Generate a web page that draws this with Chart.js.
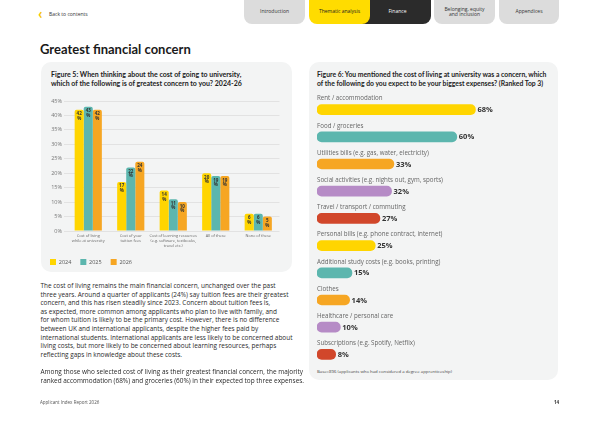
<!DOCTYPE html>
<html>
<head>
<meta charset="utf-8">
<script src="https://cdn.jsdelivr.net/npm/chart.js@4.4.1/dist/chart.umd.min.js"></script>
<style>
  body { margin: 0; width: 600px; height: 424px; background: #fff; position: relative; overflow: hidden; font-family: "Open Sans", sans-serif; color: #2a2a2a; }
  .abs { position: absolute; white-space: nowrap; }
  .tab { position: absolute; top: 0; height: 24px; background: #dcdcdc; border-radius: 0 0 8px 8px; font: 5px "Open Sans"; color: #333; display: flex; align-items: center; justify-content: center; text-align: center; line-height: 5.5px; }
  .card { position: absolute; background: #f3f4f4; border-radius: 10px; }
  .figtitle { font: bold 7px Lato; color: #222; line-height: 9px; }
  .body { font: 6.45px "Open Sans"; line-height: 8.6px; color: #2a2a2a; }
  canvas { position: absolute; }
</style>
</head>
<body>
<div class="abs" style="left:38px;top:3px;font:bold 16px Lato;color:#f5c400;">&lsaquo;</div>
<div class="abs" style="left:49px;top:11px;font:5px 'Open Sans';color:#333;">Back to contents</div>

<div class="tab" style="left:244px;width:61px;">Introduction</div>
<div class="tab" style="left:350px;width:81px;background:#2b2b2b;color:#fff;padding-left:14px;box-sizing:border-box;">Finance</div>
<div class="tab" style="left:309px;width:61px;background:#ffdc00;color:#222;">Thematic analysis</div>
<div class="tab" style="left:434px;width:61px;">Belonging, equity<br>and inclusion</div>
<div class="tab" style="left:499px;width:60px;">Appendices</div>

<div class="abs" style="left:40px;top:41px;font:bold 13px Lato;color:#1a1a1a;">Greatest financial concern</div>

<div class="card" style="left:41px;top:62px;width:251px;height:210px;"></div>
<div class="card" style="left:309px;top:62px;width:249px;height:318px;"></div>

<div class="abs figtitle" style="left:51px;top:70px;">Figure 5: When thinking about the cost of going to university,<br>which of the following is of greatest concern to you? 2024-26</div>
<div class="abs figtitle" style="left:317px;top:70px;font-size:6.8px;">Figure 6: You mentioned the cost of living at university was a concern, which<br>of the following do you expect to be your biggest expenses? (Ranked Top 3)</div>

<canvas id="fig5" width="251" height="180" style="left:41px;top:95px;"></canvas>
<canvas id="fig6" width="249" height="280" style="left:309px;top:88px;"></canvas>

<div class="abs" style="left:317px;top:368px;font:4.3px 'Open Sans';color:#444;">Base=896 (applicants who had considered a degree apprenticeship)</div>

<div class="abs body" style="left:40.5px;top:282px;">The cost of living remains the main financial concern, unchanged over the past<br>three years. Around a quarter of applicants (24%) say tuition fees are their greatest<br>concern, and this has risen steadily since 2023. Concern about tuition fees is,<br>as expected, more common among applicants who plan to live with family, and<br>for whom tuition is likely to be the primary cost. However, there is no difference<br>between UK and international applicants, despite the higher fees paid by<br>international students. International applicants are less likely to be concerned about<br>living costs, but more likely to be concerned about learning resources, perhaps<br>reflecting gaps in knowledge about these costs.</div>
<div class="abs body" style="left:40.5px;top:368px;">Among those who selected cost of living as their greatest financial concern, the majority<br>ranked accommodation (68%) and groceries (60%) in their expected top three expenses.</div>

<div class="abs" style="left:40px;top:399px;font:4.5px 'Open Sans';color:#555;">Applicant Index Report 2026</div>
<div class="abs" style="left:554px;top:399px;font:bold 4.5px 'Open Sans';color:#333;">14</div>

<script>
// Figure 5 data
const concernLabels = [
  ['Cost of living', 'while at university'],
  ['Cost of your', 'tuition fees'],
  ['Cost of learning resources', '(e.g. software, textbooks,', 'travel etc.)'],
  'All of these',
  'None of these'
];
const years = ['2024', '2025', '2026'];
const concern2024 = [42, 17, 14, 20, 6];
const concern2025 = [43, 22, 11, 19, 6];
const concern2026 = [42, 24, 10, 19, 5];
const yTicks = [0, 5, 10, 15, 20, 25, 30, 35, 40, 45];

// Figure 6 data
const expenseLabels = [
  'Rent / accommodation',
  'Food / groceries',
  'Utilities bills (e.g. gas, water, electricity)',
  'Social activities (e.g. nights out, gym, sports)',
  'Travel / transport / commuting',
  'Personal bills (e.g. phone contract, internet)',
  'Additional study costs (e.g. books, printing)',
  'Clothes',
  'Healthcare / personal care',
  'Subscriptions (e.g. Spotify, Netflix)'
];
const expenseValues = [68, 60, 33, 32, 27, 25, 15, 14, 10, 8];

const yellow = '#ffd500', teal = '#5cb6ae', orange = '#f6a623', purple = '#b68bc6', red = '#d1472b';
const expenseColors = [yellow, teal, orange, purple, red, yellow, teal, orange, purple, red];

Chart.defaults.font.family = 'Open Sans';
Chart.defaults.animation = false;

// value labels inside the top of each column
const columnLabels = {
  id: 'columnLabels',
  afterDatasetsDraw(chart) {
    const ctx = chart.ctx;
    ctx.save();
    ctx.font = 'bold 4.5px "Open Sans"';
    ctx.fillStyle = '#333';
    ctx.textAlign = 'center';
    ctx.textBaseline = 'top';
    chart.data.datasets.forEach((ds, i) => {
      chart.getDatasetMeta(i).data.forEach((bar, j) => {
        ctx.fillText(ds.data[j], bar.x, bar.y + 2);
        ctx.fillText('%', bar.x, bar.y + 6.5);
      });
    });
    ctx.restore();
  }
};

new Chart(document.getElementById('fig5'), {
  type: 'bar',
  data: {
    labels: concernLabels,
    datasets: [
      { label: years[0], data: concern2024, backgroundColor: yellow },
      { label: years[1], data: concern2025, backgroundColor: teal },
      { label: years[2], data: concern2026, backgroundColor: orange }
    ]
  },
  options: {
    responsive: false,
    layout: { padding: { top: 6, left: 0, right: 12.5, bottom: 0 } },
    datasets: { bar: { categoryPercentage: 0.64, barPercentage: 1, borderRadius: 2 } },
    plugins: {
      legend: {
        position: 'bottom',
        align: 'start',
        labels: { boxWidth: 6, boxHeight: 6, padding: 9, color: '#555', font: { size: 5.5 } }
      },
      tooltip: { enabled: false }
    },
    scales: {
      x: {
        grid: { display: false, drawTicks: false },
        border: { display: false },
        ticks: { color: '#666', font: { size: 3.9, lineHeight: 1.2 }, maxRotation: 0, autoSkip: false, padding: 3 },
        afterFit: s => { s.height = 19; }
      },
      y: {
        min: 0,
        max: 45,
        afterBuildTicks: s => { s.ticks = yTicks.map(v => ({ value: v })); },
        grid: { color: '#e2e2e2', tickLength: 3 },
        border: { display: false },
        ticks: { color: '#777', font: { size: 5.5 }, padding: 2, callback: v => v + '%' },
        afterFit: s => { s.width = 26; }
      }
    }
  },
  plugins: [columnLabels]
});

// category names above bars and values after them
const barLabels = {
  id: 'barLabels',
  afterDatasetsDraw(chart) {
    const ctx = chart.ctx;
    const left = chart.chartArea.left;
    ctx.save();
    ctx.textBaseline = 'middle';
    ctx.textAlign = 'left';
    chart.getDatasetMeta(0).data.forEach((bar, i) => {
      ctx.font = '6.2px "Open Sans"';
      ctx.fillStyle = '#666';
      ctx.fillText(chart.data.labels[i], left, bar.y - 11);
      ctx.font = 'bold 7.5px "Open Sans"';
      ctx.fillStyle = '#333';
      ctx.fillText(expenseValues[i] + '%', bar.x + 2, bar.y + 0.5);
    });
    ctx.restore();
  }
};

new Chart(document.getElementById('fig6'), {
  type: 'bar',
  data: {
    labels: expenseLabels,
    datasets: [{ data: expenseValues, backgroundColor: expenseColors, barThickness: 10, borderRadius: 5, borderSkipped: false }]
  },
  options: {
    indexAxis: 'y',
    responsive: false,
    layout: { padding: { left: 8, right: 8, top: 8, bottom: 0 } },
    plugins: { legend: { display: false }, tooltip: { enabled: false } },
    scales: {
      x: { display: false, min: 0, max: 100 },
      y: { display: false }
    }
  },
  plugins: [barLabels]
});
</script>
</body>
</html>
